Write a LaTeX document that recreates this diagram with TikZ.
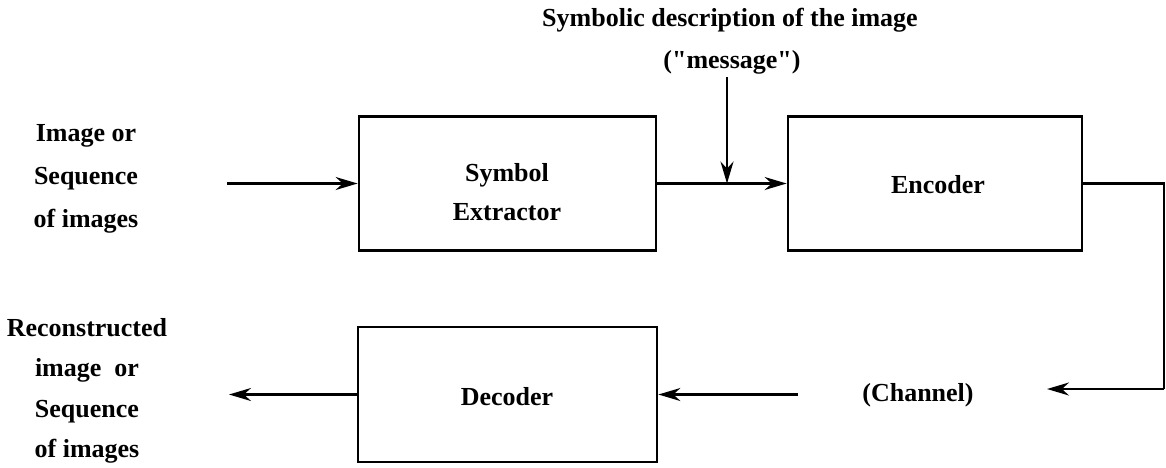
\documentclass[tikz,border=0pt]{standalone}
\usepackage{fontspec}
\setmainfont{Liberation Serif}
% same face without the TeX quote mapping, for straight double quotes
\newfontfamily\straightq{Liberation Serif}[Ligatures=Common]
\newcommand{\sq}{{\straightq\bfseries "}}
\usetikzlibrary{arrows.meta}
\begin{document}
\begin{tikzpicture}[x=1pt,y=-1pt,
  block/.style={draw, line width=2.8pt, inner sep=0pt},
  lbl/.style={font=\fontsize{26}{43}\selectfont\bfseries, align=center, inner sep=0pt},
  flow/.style={line width=2.2pt, -{Stealth[length=22pt,width=13pt]}},
  wire/.style={line width=2.2pt},
]
\useasboundingbox (0,0) rectangle (1166,467);

% processing blocks
\node[block, minimum width=297pt, minimum height=134pt] (se)  at (507.5,183.5) {};
\node[block, minimum width=294pt, minimum height=134pt] (enc) at (935,183.5) {};
\node[block, minimum width=299pt, minimum height=135pt] (dec) at (507.5,394.5) {};

% block captions
\node[lbl, font=\fontsize{26}{39}\selectfont\bfseries] (setext) at (507,192) {Symbol\\Extractor};
\node[lbl] (enctext) at (938,185) {Encoder};
\node[lbl] (dectext) at (507,397) {Decoder};

% outer labels
\node[lbl] (inlbl) at (86,179) {Image or\\Sequence\\of images};
\node[lbl, font=\fontsize{26}{40.5}\selectfont\bfseries] (outlbl) at (87,391) {Reconstructed\\image~~or\\Sequence\\of images};
\node[lbl] (title) at (730,20) {Symbolic description of the image};
\node[lbl] (msg) at (732,62) {(\sq message\sq)};
\node[lbl] (chan) at (918,395) {(Channel)};

% connector end points
\coordinate (in)    at (227,183.5);
\coordinate (mtop)  at (727,77);
\coordinate (mjoin) at (727,183.5);
\coordinate (cr)    at (1164,183.5);
\coordinate (cb)    at (1164,389);
\coordinate (cin)   at (1047,389);
\coordinate (cout)  at (798,394.5);
\coordinate (out)   at (229,394.5);

% signal flow
\draw[flow] (in) -- (se.west);
\draw[flow] (se.east) -- (enc.west);
\draw[flow] (mtop) -- (mjoin);
\draw[wire] (enc.east) -- (cr) -- (cb);
\draw[flow] (cb) -- (cin);
\draw[flow] (cout) -- (dec.east);
\draw[flow] (dec.west) -- (out);
\end{tikzpicture}
\end{document}
